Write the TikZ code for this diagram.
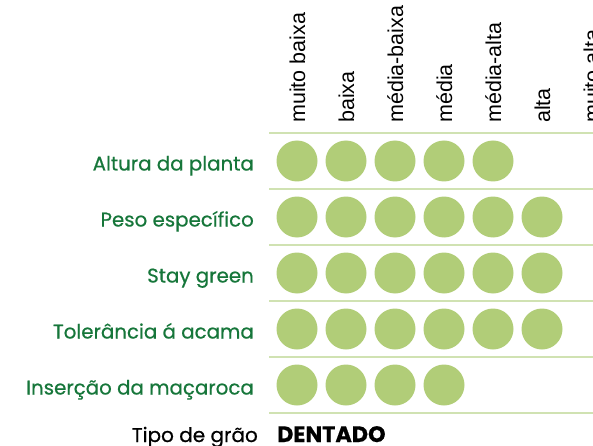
\documentclass[tikz,border=0pt]{standalone}
\usepackage{fontspec}
\setmainfont{Poppins}[FakeBold=0.6]
\newfontfamily\headfont{Liberation Sans}
\definecolor{txtgreen}{RGB}{22,118,58}
\definecolor{dotgreen}{RGB}{177,205,120}
\definecolor{linegreen}{RGB}{208,226,178}
\tikzset{
  rowlabel/.style={anchor=base east, inner sep=0pt, text=txtgreen, font=\fontsize{19.8}{22}\selectfont},
  collabel/.style={anchor=base west, rotate=90, inner sep=0pt, font=\headfont\fontsize{21.5}{24}\selectfont},
  dot/.style={circle, fill=dotgreen, minimum size=41pt, inner sep=0pt},
  sepline/.style={draw=linegreen, line width=2pt}
}
\begin{document}
\begin{tikzpicture}[x=1pt,y=-1pt]
\useasboundingbox (0,0) rectangle (593,446);
% column labels
\foreach \t [count=\i from 0] in {muito baixa,baixa,média-baixa,média,média-alta,alta,muito alta}{
  \node[collabel] (c\i) at (305+49*\i,123) {\t};
}
% separator lines
\foreach \y [count=\j] in {133,189,245,301,357,413}{
  \coordinate (la\j) at (269,\y);
  \coordinate (lb\j) at (593,\y);
  \draw[sepline] (la\j) -- (lb\j);
}
% row labels
\node[rowlabel] (r1) at (254,170.5) {Altura da planta};
\node[rowlabel] (r2) at (254,226.5) {Peso específico};
\node[rowlabel] (r3) at (254,282.5) {Stay green};
\node[rowlabel] (r4) at (254,338.5) {Tolerância á acama};
\node[rowlabel] (r5) at (254,394.5) {Inserção da maçaroca};
% dots
\foreach \r/\n/\y in {1/5/161,2/6/217,3/6/273,4/6/329,5/4/385}{
  \foreach \k in {1,...,\n}{
    \node[dot] (d\r-\k) at (297+49*\k-49,\y) {};
  }
}
% grain type
\node[anchor=base east, inner sep=0pt, font=\fontsize{20}{22}\selectfont] (tg) at (258,442) {Tipo de grão};
\node[anchor=base west, inner sep=0pt, font=\fontsize{22.3}{24}\selectfont\bfseries] (dt) at (277,442) {DENTADO};
\end{tikzpicture}
\end{document}
